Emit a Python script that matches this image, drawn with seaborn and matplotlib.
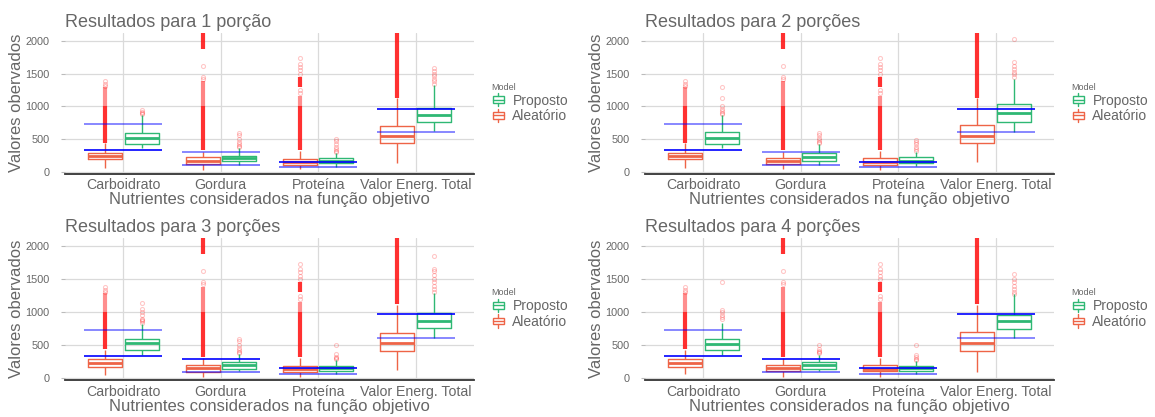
import numpy as np
import pandas as pd
import matplotlib
matplotlib.use("Agg")
import matplotlib.pyplot as plt
import seaborn as sns
from matplotlib.legend_handler import HandlerBase
from matplotlib.patches import Rectangle
from matplotlib.lines import Line2D

# ---------------------------------------------------------------- data
nutrientes = ["Carboidrato", "Gordura", "Proteína", "Valor Energ. Total"]
modelos = ["Aleatório", "Proposto"]
titulos = ["Resultados para 1 porção", "Resultados para 2 porções",
           "Resultados para 3 porções", "Resultados para 4 porções"]

# five-number summaries per nutrient: [min, Q1, median, Q3, max] (whisker ends)
aleatorio_p1 = [[56, 193, 244, 294, 437], [30, 122, 168, 223, 310],
                [40, 112, 147, 203, 325], [132, 437, 548, 706, 1122]]
proposto_p1 = [[360, 426, 513, 599, 868], [112, 168, 208, 249, 360],
               [81, 132, 168, 208, 284], [629, 756, 868, 980, 1320]]

aleatorio_p2 = [[66, 193, 244, 294, 437], [40, 117, 162, 218, 310],
                [30, 112, 147, 208, 325], [157, 437, 548, 711, 1122]]
proposto_p2 = [[360, 426, 513, 604, 868], [112, 173, 233, 284, 421],
               [91, 142, 173, 223, 310], [614, 766, 893, 1030, 1411]]

aleatorio_p3 = [[46, 173, 240, 286, 434], [26, 102, 153, 209, 316],
                [26, 102, 143, 194, 316], [122, 418, 536, 689, 1107]]
proposto_p3 = [[352, 434, 536, 597, 827], [107, 143, 199, 250, 367],
               [71, 117, 153, 194, 281], [607, 760, 867, 980, 1286]]

aleatorio_p4 = [[61, 173, 240, 286, 434], [20, 107, 153, 209, 316],
                [26, 107, 148, 199, 316], [102, 418, 536, 699, 1107]]
proposto_p4 = [[352, 429, 520, 597, 842], [107, 148, 204, 250, 352],
               [71, 117, 153, 194, 265], [607, 750, 867, 954, 1270]]

# runs of densely packed outliers of the random model: (from, to, density)
faixas_aleatorio = [
    [(440, 1000, 1.0), (1000, 1290, 0.55)],
    [(330, 1000, 1.0), (1000, 1380, 0.6), (1870, 2200, 1.0)],
    [(330, 1000, 1.0), (1000, 1150, 0.55), (1300, 1450, 1.0)],
    [(1120, 2200, 1.0)],
]
# isolated outliers of the random model
soltos_aleatorio = [[1310, 1340, 1380], [1420, 1450, 1620],
                    [1200, 1250, 1500, 1550, 1600, 1650, 1730], []]

# isolated outliers of the proposed model, per panel
soltos_proposto = [
    [[880, 900, 920, 944], [380, 400, 430, 460, 500, 560, 600],
     [300, 320, 350, 380, 420, 470, 500], [1340, 1380, 1420, 1460, 1500, 1540, 1580]],
    [[880, 900, 930, 960, 1000, 1120, 1290], [440, 460, 480, 520, 560, 600],
     [320, 350, 380, 420, 450, 480], [1450, 1500, 1530, 1570, 1620, 1680, 2020]],
    [[840, 860, 880, 900, 950, 1000, 1050, 1140], [380, 400, 430, 460, 500, 560, 600],
     [290, 310, 330, 370, 500], [1300, 1350, 1400, 1450, 1500, 1560, 1620, 1650, 1840]],
    [[900, 930, 960, 1000, 1030, 1460], [380, 400, 420, 450, 500],
     [280, 300, 320, 350, 500], [1280, 1300, 1350, 1400, 1450, 1500, 1580]],
]

# target range per nutrient
limite_superior = [730, 300, 155, 965]
limite_inferior = [340, 100, 70, 610]

resumos = [(aleatorio_p1, proposto_p1), (aleatorio_p2, proposto_p2),
           (aleatorio_p3, proposto_p3), (aleatorio_p4, proposto_p4)]

# ---------------------------------------------------------------- style
sns.set_theme(style="white")
plt.rcParams["font.family"] = ["Liberation Sans", "DejaVu Sans"]

cinza = "#666666"
verde = "#2FB874"
vermelho = "#EE6447"
paleta = {"Aleatório": vermelho, "Proposto": verde}
azul = "#0000FF"
# opacity of (upper, lower) target lines per nutrient, per panel
alfa_linhas = [
    [(0.55, 1.0), (0.55, 0.6), (1.0, 0.6), (1.0, 0.55)],
    [(0.55, 1.0), (0.55, 0.6), (1.0, 0.6), (1.0, 0.55)],
    [(0.55, 1.0), (1.0, 0.6), (1.0, 0.6), (1.0, 0.55)],
    [(0.55, 1.0), (1.0, 0.6), (1.0, 0.6), (1.0, 0.55)],
]

LARGURA = 0.75
desloc = (np.arange(len(modelos)) - 0.5) * (LARGURA / len(modelos))


class ChaveBoxplot(HandlerBase):
    """Small boxplot glyph used as legend key."""

    def create_artists(self, legend, orig_handle, xdescent, ydescent,
                       width, height, fontsize, trans):
        c = orig_handle.get_color()
        x0, y0 = -xdescent, -ydescent
        cx = x0 + width / 2
        b0, b1 = y0 + 0.18 * height, y0 + 0.82 * height
        caixa = Rectangle((x0 + 0.08 * width, b0), 0.84 * width, b1 - b0,
                          fill=False, edgecolor=c, lw=1.0, transform=trans)
        med = Line2D([x0 + 0.08 * width, x0 + 0.92 * width], [y0 + height / 2] * 2,
                     color=c, lw=1.0, transform=trans)
        bigode1 = Line2D([cx, cx], [y0 - 0.12 * height, b0], color=c, lw=1.0, transform=trans)
        bigode2 = Line2D([cx, cx], [b1, y0 + 1.12 * height], color=c, lw=1.0, transform=trans)
        return [caixa, med, bigode1, bigode2]


fig = plt.figure(figsize=(11.55, 4.17), dpi=100)
W, H = 1155, 417
ax_px = [(65, 33, 409, 140.5), (645, 33, 409, 140.5),
         (65, 238, 409, 142), (645, 238, 409, 142)]

for p in range(4):
    l, t, w, h = ax_px[p]
    ax = fig.add_axes([l / W, 1 - (t + h) / H, w / W, h / H])
    aleat, prop = resumos[p]

    linhas = []
    for j, nut in enumerate(nutrientes):
        for modelo, tabela in (("Aleatório", aleat), ("Proposto", prop)):
            for v in tabela[j]:
                linhas.append((nut, modelo, v))
    df = pd.DataFrame(linhas, columns=["Nutriente", "Modelo", "Valor"])

    # outliers: dense runs as thick strokes, isolated ones as hollow circles
    for j in range(len(nutrientes)):
        xa = j + desloc[0]
        xp = j + desloc[1]
        for lo, hi, dens in faixas_aleatorio[j]:
            ax.vlines(xa, lo, hi, color="#FF1A1A", lw=3.0, alpha=0.9 * dens, zorder=2)
        if soltos_aleatorio[j]:
            ax.plot([xa] * len(soltos_aleatorio[j]), soltos_aleatorio[j], "o", ms=2.9,
                    mfc="none", mec="#FF0000", mew=0.8, alpha=0.22, zorder=2)
        sp = soltos_proposto[p][j]
        ax.plot([xp] * len(sp), sp, "o", ms=2.9, mfc="none", mec="#FF0000",
                mew=0.8, alpha=0.22, zorder=2)

    sns.boxplot(data=df, x="Nutriente", y="Valor", hue="Modelo", order=nutrientes,
                hue_order=modelos, palette=paleta, width=LARGURA, gap=0.07,
                whis=(0, 100), fill=False, showfliers=False, showcaps=False,
                linewidth=1.0, medianprops={"linewidth": 2.0}, legend=False,
                ax=ax, zorder=3)

    for j in range(len(nutrientes)):
        a_sup, a_inf = alfa_linhas[p][j]
        ax.hlines(limite_superior[j], j - 0.4, j + 0.4, color=azul, lw=1.2,
                  alpha=a_sup, zorder=4)
        ax.hlines(limite_inferior[j], j - 0.4, j + 0.4, color=azul, lw=1.2,
                  alpha=a_inf, zorder=4)

    ax.set_xlim(-0.6, len(nutrientes) - 0.4)
    ax.set_ylim(-23, 2117)
    ax.set_yticks([0, 500, 1000, 1500, 2000])
    ax.grid(True, color="#DADADA", lw=0.9)
    ax.set_axisbelow(True)
    for s in ("top", "right", "left"):
        ax.spines[s].set_visible(False)
    ax.spines["bottom"].set_color("#333333")
    ax.spines["bottom"].set_linewidth(1.3)
    ax.tick_params(axis="x", length=0, pad=3.5, labelsize=10.2, labelcolor=cinza)
    ax.tick_params(axis="y", length=3, width=0.8, color="#BBBBBB", pad=8,
                   labelsize=7.8, labelcolor=cinza, left=True)
    ax.set_xlabel("Nutrientes considerados na função objetivo", fontsize=12,
                  color=cinza, labelpad=0)
    ax.set_ylabel("Valores obervados", fontsize=12, color=cinza, labelpad=1)
    ax.set_title(titulos[p], loc="left", fontsize=13, color=cinza, pad=4)

    leg = ax.legend(handles=[Line2D([], [], color=verde), Line2D([], [], color=vermelho)],
                    labels=["Proposto", "Aleatório"],
                    handler_map={Line2D: ChaveBoxplot()}, title="Model",
                    loc="upper left", bbox_to_anchor=(1.043, 0.645),
                    bbox_transform=ax.transAxes, frameon=False, fontsize=10,
                    title_fontsize=6.5, handlelength=0.95, handleheight=0.8,
                    handletextpad=0.55, labelspacing=0.12, borderpad=0,
                    borderaxespad=0, alignment="left", labelcolor=cinza)
    leg.get_title().set_color(cinza)

fig.savefig("out.png", dpi=100, facecolor="white")
